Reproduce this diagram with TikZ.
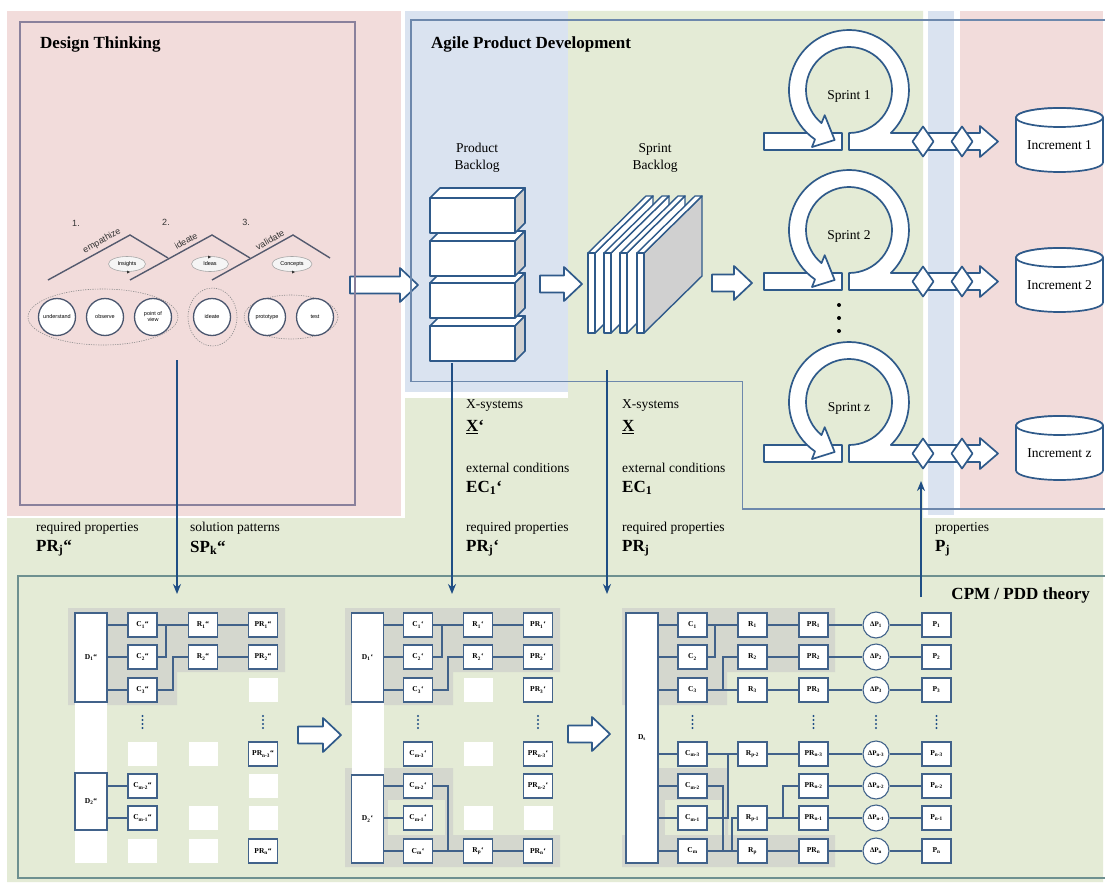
\documentclass[tikz,border=0pt]{standalone}
\usepackage{fontspec}
\setmainfont{Liberation Serif}
\newfontfamily\dtfont{Liberation Sans}
\usetikzlibrary{arrows.meta,calc,shapes.geometric}
\definecolor{pinkbg}{HTML}{F2DCDB}
\definecolor{bluebg}{HTML}{DAE3F0}
\definecolor{greenbg}{HTML}{E4EBD6}
\definecolor{greybg}{HTML}{D4D7CE}
\definecolor{mline}{HTML}{41628A}
\definecolor{hline}{HTML}{2F5A8A}
\definecolor{darrow}{HTML}{1F4E85}
\definecolor{dtframe}{HTML}{8A819C}
\definecolor{agframe}{HTML}{6D88AC}
\definecolor{cpmframe}{HTML}{6E9090}
\definecolor{roof}{HTML}{545A6E}
\definecolor{circline}{HTML}{4A566E}
\definecolor{sidegrey}{HTML}{D0D0D0}
\newcommand\dblq{“}
\newcommand\sglq{‘}
\newcommand\mfont{\bfseries\fontsize{7.5}{9}\selectfont}
\newcommand\lblfont{\fontsize{13.5}{16}\selectfont}
\newcommand\symfont{\bfseries\fontsize{17}{20}\selectfont}
\newcommand\vdotsat[2]{\foreach \k in {0,1,2,3}{\fill[darrow] (#1,#2-6+4*\k) circle (1.15);}}
\newcommand\harrow[3]{\draw[hollow] (#1,#3-8.5) -- (#2-18,#3-8.5) -- (#2-18,#3-17) -- (#2,#3) -- (#2-18,#3+17) -- (#2-18,#3+8.5) -- (#1,#3+8.5) -- cycle;}
\newcommand\pbbox[1]{%
 \draw[hollow] (430,#1) -- (440,#1-10) -- (525,#1-10) -- (515,#1) -- cycle;
 \draw[hollow, fill=sidegrey] (515,#1) -- (525,#1-10) -- (525,#1+25) -- (515,#1+35) -- cycle;
 \draw[hollow] (430,#1) rectangle (515,#1+35);}
\newcommand\sbslab[2]{%
 \draw[hollow, line width=1.4, fill=#2] (#1+7,253) -- (#1+65,196) -- (#1+65,276) -- (#1+7,333) -- cycle;
 \draw[hollow, line width=1.4] (#1,253) -- (#1+58,196) -- (#1+65,196) -- (#1+7,253) -- cycle;
 \draw[hollow, line width=1.4] (#1,253) rectangle (#1+7,333);}
\newcommand\sprintloop[2]{%
 \pgfmathsetmacro\yt{#1}\pgfmathsetmacro\yb{#1+17}%
 \pgfmathsetmacro\cy{#1-43}\pgfmathsetmacro\ym{#1+8.5}%
 \draw[hollow] (764,\yt) rectangle (842,\yb);
 \draw[hollow] (849,\yb) -- (980,\yb) -- (980,\ym+15.5) -- (998,\ym) -- (980,\ym-15.5) -- (980,\yt) -- (890.8,\yt)
   arc[start angle=45.8,end angle=-235.5,radius=60]
   -- ($(849,\cy)+(-237:68)$) -- ($(849,\cy)+(-254:52)$) -- ($(849,\cy)+(-226:35)$) -- ($(849,\cy)+(-230.3:43)$)
   arc[start angle=-230.3,end angle=90,radius=43] -- cycle;
 \draw[hollow] (912.5,\ym) -- (923,\ym-15) -- (933.5,\ym) -- (923,\ym+15) -- cycle;
 \draw[hollow] (951.5,\ym) -- (962,\ym-15) -- (972.5,\ym) -- (962,\ym+15) -- cycle;
 \node[txt] (sprint#2) at (849,\cy+6) {Sprint #2};}
\newcommand\incr[2]{%
 \pgfmathsetmacro\ta{#1-27.5}\pgfmathsetmacro\tb{#1+17.5}%
 \draw[hollow] (1016,\ta) -- (1016,\tb) arc[start angle=180,end angle=0,x radius=43.5,y radius=9.5] -- (1103,\ta) arc[start angle=0,end angle=-180,x radius=43.5,y radius=9.5] -- cycle;
 \draw[hollow] (1059.5,\ta) ellipse[x radius=43.5,y radius=9.5];
 \node[txt] (inc#2) at (1059.5,#1) {Increment #2};}
\begin{document}
\begin{tikzpicture}[x=1pt,y=-1pt,
  hollow/.style={draw=hline, fill=white, line width=1.7, line join=round},
  mb/.style={draw=mline, fill=white, line width=1.1, minimum width=29, minimum height=24, inner sep=0, font=\mfont},
  wb/.style={fill=white, minimum width=29, minimum height=24, inner sep=0},
  db/.style={draw=mline, fill=white, line width=1.1, minimum width=32, inner sep=0, font=\mfont},
  cb/.style={circle, draw=mline, fill=white, line width=1.1, minimum size=26, inner sep=0, font=\bfseries\fontsize{7}{8}\selectfont},
  cn/.style={draw=mline, line width=1.1},
  varrow/.style={draw=darrow, line width=1.8, -{Stealth[length=10pt,width=8pt]}},
  lbl/.style={anchor=west, inner sep=0, font=\lblfont},
  sym/.style={anchor=west, inner sep=0, font=\symfont},
  ttl/.style={inner sep=0, font=\bfseries\fontsize{17}{20}\selectfont},
  txt/.style={inner sep=0, font=\fontsize{13.5}{17}\selectfont, align=center},
  dtl/.style={inner sep=0, font=\dtfont\fontsize{9}{10}\selectfont, text=black!80},
  ell/.style={ellipse, draw=black!35, fill=black!4, line width=0.6, minimum width=37, minimum height=15, inner sep=0, font=\dtfont\fontsize{5.5}{6}\selectfont},
  dc/.style={circle, draw=circline, fill=white, line width=1.3, minimum size=37, inner sep=0, align=center, font=\dtfont\fontsize{5.5}{6}\selectfont},
  dotell/.style={draw=black!45, line width=0.6, dash pattern=on 1.2pt off 1.2pt},
  roofline/.style={draw=roof, line width=1.4}
]
\useasboundingbox (0,0) rectangle (1105,883);
\fill[white] (0,0) rectangle (1105,883);
% ---------- backgrounds
\fill[pinkbg] (7,11) rectangle (401,516);
\fill[bluebg] (405,11) rectangle (568,392);
\fill[greenbg] (568,11) -- (923,11) -- (923,518) -- (1103,518) -- (1103,882) -- (7,882) -- (7,518) -- (405,518) -- (405,398) -- (568,398) -- cycle;
\fill[bluebg] (928,11) rectangle (954,515);
\fill[pinkbg] (960,11) rectangle (1103,510);
% ---------- grey matrix regions
\fill[greybg] (68,608) -- (285,608) -- (285,672) -- (177,672) -- (177,705) -- (68,705) -- cycle;
\fill[greybg] (345,608) -- (560,608) -- (560,672) -- (453,672) -- (453,705) -- (345,705) -- cycle;
\fill[greybg] (345,768) -- (453,768) -- (453,835) -- (560,835) -- (560,867) -- (345,867) -- cycle;
\fill[greenbg] (388,800) rectangle (445,835);
\fill[greybg] (622,608) -- (835,608) -- (835,672) -- (727,672) -- (727,705) -- (622,705) -- cycle;
\fill[greybg] (658,768) -- (728,768) -- (728,835) -- (835,835) -- (835,867) -- (622,867) -- (622,835) -- (658,835) -- cycle;
\fill[greenbg] (665,800) rectangle (725,835);
% ---------- big hollow arrows
\harrow{350}{418}{285}
\harrow{540}{582}{284}
\harrow{712}{752}{283}
\harrow{298}{341}{735}
\harrow{568}{610}{734}
% ---------- frames
\draw[dtframe, line width=1.8] (20,22) rectangle (355,505);
\draw[agframe, line width=1.8] (1105,20) -- (411,20) -- (411,381.5) -- (742.5,381.5) -- (742.5,509) -- (1105,509);
\draw[cpmframe, line width=1.8] (1105,576) -- (18,576) -- (18,878) -- (1105,878);
% ---------- titles
\node[ttl, anchor=west] (dttitle) at (40,44) {Design Thinking};
\node[ttl, anchor=west] (agtitle) at (431,44) {Agile Product Development};
\node[ttl, anchor=east] (cpmtitle) at (1090,595) {CPM / PDD theory};
% ---------- design thinking
\draw[roofline] (48,280) -- (130,235) -- (168,258);
\draw[roofline] (130,280) -- (212,235) -- (250,258);
\draw[roofline] (212,280) -- (293,235) -- (330,258);
\node[dtl] (num1) at (76,223) {1.};
\node[dtl, rotate=29] (emp) at (102,241) {empathize};
\node[dtl] (num2) at (166,222) {2.};
\node[dtl, rotate=29] (ide) at (186,241) {ideate};
\node[dtl] (num3) at (246,222) {3.};
\node[dtl, rotate=29] (val) at (270,240) {validate};
\node[ell] (ins) at (127,264) {Insights};
\node[ell] (ideas) at (210,264) {Ideas};
\node[ell, minimum width=40] (conc) at (292,264) {Concepts};
\fill[black!80] (127,270.5) -- (130,272) -- (127,273.5) -- cycle;
\fill[black!80] (208,255.5) -- (211,257) -- (208,258.5) -- cycle;
\fill[black!80] (292,270.5) -- (295,272) -- (292,273.5) -- cycle;
\draw[dotell] (103,317) ellipse[x radius=75, y radius=28];
\draw[dotell] (212.5,317) ellipse[x radius=24.5, y radius=29];
\draw[dotell] (291,317) ellipse[x radius=47, y radius=22];
\node[dc] (und) at (57,317) {understand};
\node[dc] (obs) at (105,317) {observe};
\node[dc] (pov) at (153,317) {point of\\view};
\node[dc] (idt) at (212,317) {ideate};
\node[dc] (pro) at (267,317) {prototype};
\node[dc] (tst) at (315,317) {test};
% ---------- product backlog
\node[txt] (pbl) at (477,158) {Product\\Backlog};
\pbbox{326}
\pbbox{283}
\pbbox{241}
\pbbox{198}
% ---------- sprint backlog
\node[txt] (sbl) at (655,158) {Sprint\\Backlog};
\sbslab{588}{white}
\sbslab{604}{white}
\sbslab{620}{white}
\sbslab{637}{sidegrey}
% ---------- sprints and increments
\sprintloop{133}{1}
\sprintloop{273}{2}
\sprintloop{445}{z}
\foreach \yy in {305,318,331} \fill[black] (839,\yy) circle (2);
\incr{145}{1}
\incr{285}{2}
\incr{453}{z}
% ---------- vertical arrows
\coordinate (dtout) at (177,360);
\coordinate (dtin) at (177,594);
\coordinate (pbout) at (452,363);
\coordinate (pbin) at (452,594);
\coordinate (sbout) at (607,370);
\coordinate (sbin) at (607,594);
\coordinate (pout) at (921,597);
\coordinate (pin) at (921,481);
\draw[varrow] (dtout) -- (dtin);
\draw[varrow] (pbout) -- (pbin);
\draw[varrow] (sbout) -- (sbin);
\draw[varrow] (pout) -- (pin);
% ---------- labels
\node[lbl] (lrp) at (36,528) {required properties};
\node[sym] (lpr) at (36,548) {PR\textsubscript{j}\dblq};
\node[lbl] (lsp) at (190,528) {solution patterns};
\node[sym] (lspk) at (190,548) {SP\textsubscript{k}\dblq};
\node[lbl] (mxs) at (466,406) {X-systems};
\node[sym] (mx) at (466,427) {\underline{X}\sglq};
\node[lbl] (mec) at (466,468) {external conditions};
\node[sym] (mec1) at (466,488) {EC\textsubscript{1}\sglq};
\node[lbl] (mrp) at (466,528) {required properties};
\node[sym] (mpr) at (466,548) {PR\textsubscript{j}\sglq};
\node[lbl] (rxs) at (622,406) {X-systems};
\node[sym] (rx) at (622,427) {\underline{X}};
\node[lbl] (rec) at (622,468) {external conditions};
\node[sym] (rec1) at (622,488) {EC\textsubscript{1}};
\node[lbl] (rrp) at (622,528) {required properties};
\node[sym] (rpr) at (622,548) {PR\textsubscript{j}};
\node[lbl] (pp) at (935,528) {properties};
\node[sym] (ppj) at (935,548) {P\textsubscript{j}};
% ---------- left matrix
\node[wb, minimum width=32, minimum height=71] (LDw1) at (91,737.5) {};
\node[wb, minimum width=32, minimum height=33] (LDw2) at (91,846.5) {};
\node[db, minimum height=89] (LD1) at (91,657.5) {D\textsubscript{1}\dblq};
\node[db, minimum height=57] (LD2) at (91,801.5) {D\textsubscript{2}\dblq};
\node[mb] (LC1) at (142.5,625) {C\textsubscript{1}\dblq};
\node[mb] (LC2) at (142.5,657) {C\textsubscript{2}\dblq};
\node[mb] (LC3) at (142.5,690) {C\textsubscript{3}\dblq};
\node[wb] (LC5) at (142.5,754) {};
\node[mb] (LC6) at (142.5,786) {C\textsubscript{m-2}\dblq};
\node[mb] (LC7) at (142.5,818) {C\textsubscript{m-1}\dblq};
\node[wb] (LC8) at (142.5,851) {};
\node[mb] (LR1) at (203,625) {R\textsubscript{1}\dblq};
\node[mb] (LR2) at (203,657) {R\textsubscript{2}\dblq};
\node[wb] (LR5) at (203,754) {};
\node[wb] (LR7) at (203,818) {};
\node[wb] (LR8) at (203,851) {};
\node[mb] (LPR1) at (263,625) {PR\textsubscript{1}\dblq};
\node[mb] (LPR2) at (263,657) {PR\textsubscript{2}\dblq};
\node[wb] (LPR3) at (263,690) {};
\node[mb] (LPR5) at (263,754) {PR\textsubscript{n-3}\dblq};
\node[wb] (LPR6) at (263,786) {};
\node[wb] (LPR7) at (263,818) {};
\node[mb] (LPR8) at (263,851) {PR\textsubscript{n}\dblq};
\vdotsat{142.5}{722}
\vdotsat{263}{722}
\coordinate (Lj1) at (166,625);
\coordinate (Lj2) at (173,657);
\draw[cn] (LD1.east |- LC1) -- (LC1.west);
\draw[cn] (LD1.east |- LC2) -- (LC2.west);
\draw[cn] (LD1.east |- LC3) -- (LC3.west);
\draw[cn] (LC1) -- (LR1);
\draw[cn] (LC2.east) -| (Lj1);
\draw[cn] (LC3.east) -| (Lj2) -- (LR2.west);
\draw[cn] (LR1) -- (LPR1);
\draw[cn] (LR2) -- (LPR2);
\draw[cn] (LD2.east |- LC6) -- (LC6.west);
\draw[cn] (LD2.east |- LC7) -- (LC7.west);
% ---------- middle matrix
\node[wb, minimum width=32, minimum height=73] (MDw1) at (367.5,738.5) {};
\node[db, minimum height=89] (MD1) at (367.5,657.5) {D\textsubscript{1}\sglq};
\node[db, minimum height=88] (MD2) at (367.5,819) {D\textsubscript{2}\sglq};
\node[mb] (MC1) at (418,625) {C\textsubscript{1}\sglq};
\node[mb] (MC2) at (418,657) {C\textsubscript{2}\sglq};
\node[mb] (MC3) at (418,690) {C\textsubscript{3}\sglq};
\node[mb] (MC5) at (418,754) {C\textsubscript{m-3}\sglq};
\node[mb] (MC6) at (418,786) {C\textsubscript{m-2}\sglq};
\node[mb] (MC7) at (418,818) {C\textsubscript{m-1}\sglq};
\node[mb] (MC8) at (418,851) {C\textsubscript{m}\sglq};
\node[mb] (MR1) at (478,625) {R\textsubscript{1}\sglq};
\node[mb] (MR2) at (478,657) {R\textsubscript{2}\sglq};
\node[wb] (MR3) at (478,690) {};
\node[wb] (MR5) at (478,754) {};
\node[wb] (MR7) at (478,818) {};
\node[mb] (MR8) at (478,851) {R\textsubscript{p}\sglq};
\node[mb] (MPR1) at (538,625) {PR\textsubscript{1}\sglq};
\node[mb] (MPR2) at (538,657) {PR\textsubscript{2}\sglq};
\node[mb] (MPR3) at (538,690) {PR\textsubscript{3}\sglq};
\node[mb] (MPR5) at (538,754) {PR\textsubscript{n-3}\sglq};
\node[mb] (MPR6) at (538,786) {PR\textsubscript{n-2}\sglq};
\node[wb] (MPR7) at (538,818) {};
\node[mb] (MPR8) at (538,851) {PR\textsubscript{n}\sglq};
\vdotsat{418}{722}
\vdotsat{538}{722}
\coordinate (Mj1) at (442,625);
\coordinate (Mj2) at (448,657);
\coordinate (Mj3) at (448,851);
\draw[cn] (MD1.east |- MC1) -- (MC1.west);
\draw[cn] (MD1.east |- MC2) -- (MC2.west);
\draw[cn] (MD1.east |- MC3) -- (MC3.west);
\draw[cn] (MC1) -- (MR1);
\draw[cn] (MC2.east) -| (Mj1);
\draw[cn] (MC3.east) -| (Mj2) -- (MR2.west);
\draw[cn] (MR1) -- (MPR1);
\draw[cn] (MR2) -- (MPR2);
\draw[cn] (MD2.east |- MC6) -- (MC6.west);
\draw[cn] (MD2.east |- MC7) -- (MC7.west);
\draw[cn] (MD2.east |- MC8) -- (MC8.west);
\draw[cn] (MC6.east) -| (Mj3);
\draw[cn] (MC8) -- (MR8);
\draw[cn] (MR8) -- (MPR8);
% ---------- right matrix
\node[db, minimum height=250] (RD) at (642,738) {D\textsubscript{s}};
\node[mb] (RC1) at (692.5,625) {C\textsubscript{1}};
\node[mb] (RC2) at (692.5,657) {C\textsubscript{2}};
\node[mb] (RC3) at (692.5,690) {C\textsubscript{3}};
\node[mb] (RC5) at (692.5,754) {C\textsubscript{m-3}};
\node[mb] (RC6) at (692.5,786) {C\textsubscript{m-2}};
\node[mb] (RC7) at (692.5,818) {C\textsubscript{m-1}};
\node[mb] (RC8) at (692.5,851) {C\textsubscript{m}};
\node[mb] (RR1) at (752.5,625) {R\textsubscript{1}};
\node[mb] (RR2) at (752.5,657) {R\textsubscript{2}};
\node[mb] (RR3) at (752.5,690) {R\textsubscript{3}};
\node[mb] (RR5) at (752.5,754) {R\textsubscript{p-2}};
\node[mb] (RR7) at (752.5,818) {R\textsubscript{p-1}};
\node[mb] (RR8) at (752.5,851) {R\textsubscript{p}};
\node[mb] (RPR1) at (813.5,625) {PR\textsubscript{1}};
\node[mb] (RPR2) at (813.5,657) {PR\textsubscript{2}};
\node[mb] (RPR3) at (813.5,690) {PR\textsubscript{3}};
\node[mb] (RPR5) at (813.5,754) {PR\textsubscript{n-3}};
\node[mb] (RPR6) at (813.5,786) {PR\textsubscript{n-2}};
\node[mb] (RPR7) at (813.5,818) {PR\textsubscript{n-1}};
\node[mb] (RPR8) at (813.5,851) {PR\textsubscript{n}};
\node[cb] (RDP1) at (876,625) {ΔP\textsubscript{1}};
\node[cb] (RDP2) at (876,657) {ΔP\textsubscript{2}};
\node[cb] (RDP3) at (876,690) {ΔP\textsubscript{3}};
\node[cb] (RDP5) at (876,754) {ΔP\textsubscript{n-3}};
\node[cb] (RDP6) at (876,786) {ΔP\textsubscript{n-2}};
\node[cb] (RDP7) at (876,818) {ΔP\textsubscript{n-1}};
\node[cb] (RDP8) at (876,851) {ΔP\textsubscript{n}};
\node[mb] (RP1) at (936.5,625) {P\textsubscript{1}};
\node[mb] (RP2) at (936.5,657) {P\textsubscript{2}};
\node[mb] (RP3) at (936.5,690) {P\textsubscript{3}};
\node[mb] (RP5) at (936.5,754) {P\textsubscript{n-3}};
\node[mb] (RP6) at (936.5,786) {P\textsubscript{n-2}};
\node[mb] (RP7) at (936.5,818) {P\textsubscript{n-1}};
\node[mb] (RP8) at (936.5,851) {P\textsubscript{n}};
\vdotsat{692.5}{722}
\vdotsat{813.5}{722}
\vdotsat{876}{722}
\vdotsat{936.5}{722}
\foreach \r in {1,2,3,5,6,7,8}{
  \draw[cn] (RD.east |- RC\r) -- (RC\r.west);
  \draw[cn] (RPR\r) -- (RDP\r);
  \draw[cn] (RDP\r) -- (RP\r);
}
\coordinate (Rj1) at (715,625);
\coordinate (Rj2) at (723,690);
\coordinate (Rj3) at (728,754);
\coordinate (Rj4) at (723,851);
\coordinate (Rj5) at (732,851);
\coordinate (Rj6) at (783,818);
\draw[cn] (RC1) -- (RR1);
\draw[cn] (RC2.east) -| (Rj1);
\draw[cn] (RC3) -- (RR3);
\draw[cn] (Rj2) |- (RR2.west);
\draw[cn] (RR1) -- (RPR1);
\draw[cn] (RR2) -- (RPR2);
\draw[cn] (RR3) -- (RPR3);
\draw[cn] (RC5) -- (RR5);
\draw[cn] (RC7.east) -| (Rj3);
\draw[cn] (RC6.east) -| (Rj4);
\draw[cn] (RC8) -- (RR8);
\draw[cn] (Rj5) |- (RR7.west);
\draw[cn] (RR5) -- (RPR5);
\draw[cn] (RR7) -- (RPR7);
\draw[cn] (Rj6) |- (RPR6.west);
\draw[cn] (RR8) -- (RPR8);
\end{tikzpicture}
\end{document}
